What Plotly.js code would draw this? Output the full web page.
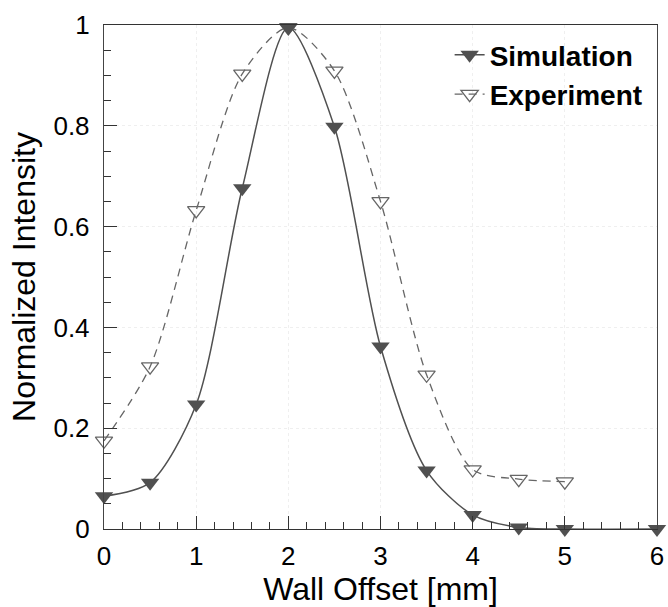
<!DOCTYPE html>
<html>
<head>
<meta charset="utf-8">
<script src="https://cdn.plot.ly/plotly-3.0.1.min.js"></script>
<style>html,body{margin:0;padding:0;background:#fff;}#chart{width:668px;height:607px;}</style>
</head>
<body>
<div id="chart"></div>
<script>
// Data
const simX = [0, 0.5, 1, 1.5, 2, 2.5, 3, 3.5, 4, 4.5, 5, 6];
const simY = [0.065, 0.092, 0.247, 0.676, 0.995, 0.798, 0.362, 0.116, 0.028, 0.003, 0.0, 0.0];
const expX = [0, 0.5, 1, 1.5, 2, 2.5, 3, 3.5, 4, 4.5, 5];
const expY = [0.175, 0.322, 0.632, 0.903, 0.995, 0.909, 0.650, 0.306, 0.118, 0.099, 0.094];
const seriesNames = ["Simulation", "Experiment"];
const xTitle = "Wall Offset [mm]";
const yTitle = "Normalized Intensity";

const FONT = "Liberation Sans, Arial, Helvetica, sans-serif";

const traces = [
  {
    x: expX, y: expY, name: seriesNames[1], type: "scatter", mode: "lines+markers",
    line: {color: "#666666", width: 1.3, dash: "8px,6px", shape: "spline", smoothing: 0.8},
    marker: {symbol: "triangle-down-open", size: 15, color: "#666666", line: {width: 1.3, color: "#666666"}},
    cliponaxis: false, legendrank: 2
  },
  {
    x: simX, y: simY, name: seriesNames[0], type: "scatter", mode: "lines+markers",
    line: {color: "#505050", width: 1.5, shape: "spline", smoothing: 0.8},
    marker: {symbol: "triangle-down", size: 16, color: "#505050"},
    cliponaxis: false, legendrank: 1
  }
];

const layout = {
  width: 668, height: 607,
  margin: {l: 104, r: 11, t: 25, b: 78},
  paper_bgcolor: "#ffffff", plot_bgcolor: "#ffffff",
  font: {family: FONT, color: "#000000", size: 26},
  showlegend: true,
  legend: {
    x: 0.625, y: 0.99, xanchor: "left", yanchor: "top",
    bgcolor: "rgba(0,0,0,0)", borderwidth: 0,
    font: {family: FONT, size: 28, color: "#000", weight: "bold"},
    tracegroupgap: 0
  },
  xaxis: {
    range: [0, 6], dtick: 1, tick0: 0,
    ticks: "inside", ticklen: 13, tickwidth: 1, tickcolor: "#333",
    minor: {dtick: 0.2, ticks: "inside", ticklen: 7, tickcolor: "#333", showgrid: false},
    showline: true, linecolor: "#333", linewidth: 1.2, mirror: true,
    showgrid: true, gridcolor: "#efefef", griddash: "dot", gridwidth: 1,
    zeroline: false,
    tickfont: {family: FONT, size: 26, color: "#000"},
    ticklabelstandoff: 4,
    title: {text: xTitle, font: {family: FONT, size: 32, color: "#000"}, standoff: 6}
  },
  yaxis: {
    range: [0, 1], dtick: 0.2, tick0: 0,
    ticks: "inside", ticklen: 13, tickwidth: 1, tickcolor: "#333",
    minor: {dtick: 0.05, ticks: "inside", ticklen: 7, tickcolor: "#333", showgrid: false},
    showline: true, linecolor: "#444", linewidth: 1.2, mirror: true,
    showgrid: true, gridcolor: "#efefef", griddash: "dot", gridwidth: 1,
    zeroline: false,
    tickfont: {family: FONT, size: 26, color: "#000"},
    ticklabelstandoff: 8,
    title: {text: yTitle, font: {family: FONT, size: 32, color: "#000"}, standoff: 8}
  }
};

Plotly.newPlot("chart", traces, layout, {displayModeBar: false, staticPlot: true});
</script>
</body>
</html>
